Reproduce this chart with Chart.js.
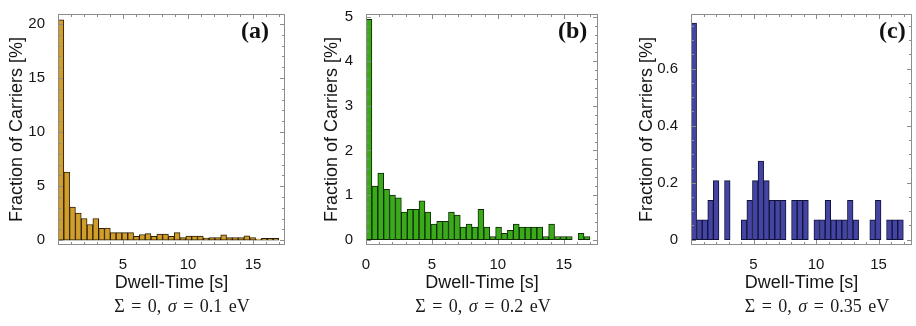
<!DOCTYPE html>
<html>
<head>
<meta charset="utf-8">
<script src="https://cdn.jsdelivr.net/npm/chart.js@4.4.1/dist/chart.umd.min.js"></script>
<style>
  html, body { margin: 0; padding: 0; background: #fff; }
  #wrap { position: relative; width: 916px; height: 326px; overflow: hidden; }
  .panel { position: absolute; top: 0; height: 300px; }
  .tag { position: absolute; top: 17px; font: bold 24px "Liberation Serif", "DejaVu Serif", serif; color: #111; }
  .cap { position: absolute; top: 296px; font: 18px "Liberation Serif", "DejaVu Serif", serif; color: #1a1a1a;
         transform: translateX(-50%); white-space: nowrap; word-spacing: 2px; }
</style>
</head>
<body>
<div id="wrap">
  <div class="panel" style="left:0px;width:300px"><canvas id="chartA"></canvas></div>
  <div class="panel" style="left:315px;width:290px"><canvas id="chartB"></canvas></div>
  <div class="panel" style="left:630px;width:286px"><canvas id="chartC"></canvas></div>

  <div class="tag" style="left:241px">(a)</div>
  <div class="tag" style="left:558px">(b)</div>
  <div class="tag" style="left:879px">(c)</div>

  <div class="cap" style="left:182px">&Sigma; = 0, <i>&sigma;</i> = 0.1 eV</div>
  <div class="cap" style="left:483px">&Sigma; = 0, <i>&sigma;</i> = 0.2 eV</div>
  <div class="cap" style="left:817px">&Sigma; = 0, <i>&sigma;</i> = 0.35 eV</div>
</div>

<script>
// histogram bins: 38 bins of equal width starting at 0 s
const binWidth = 0.447;

// fraction of carriers [%] per dwell-time bin
const fracA = [20.4, 6.3, 3.05, 2.5, 2.0, 1.45, 2.0, 1.1, 1.12, 0.69,
               0.69, 0.69, 0.69, 0.35, 0.52, 0.6, 0.36, 0.55, 0.55, 0.36,
               0.69, 0.24, 0.38, 0.38, 0.38, 0.2, 0.24, 0.24, 0.48, 0.24,
               0.24, 0.24, 0.4, 0.24, 0.1, 0.17, 0.17, 0.17];
const fracB = [4.94, 1.20, 1.49, 1.13, 1.00, 0.94, 0.62, 0.68, 0.68, 0.87,
               0.62, 0.35, 0.41, 0.41, 0.62, 0.55, 0.28, 0.35, 0.28, 0.68,
               0.28, 0.07, 0.28, 0.14, 0.21, 0.35, 0.28, 0.28, 0.28, 0.28,
               0.07, 0.35, 0.07, 0.07, 0.07, 0, 0.14, 0.07];
const fracC = [0.76, 0.069, 0.069, 0.138, 0.207, 0, 0.207, 0, 0, 0.069,
               0.138, 0.207, 0.276, 0.207, 0.138, 0.138, 0.138, 0, 0.138, 0.138,
               0.138, 0, 0.069, 0.069, 0.138, 0.069, 0.069, 0.069, 0.138, 0.069,
               0, 0, 0.069, 0.138, 0, 0.069, 0.069, 0.069];

// tick labels
const xTicksA = [5, 10, 15];
const xTicksB = [0, 5, 10, 15];
const xTicksC = [5, 10, 15];
const yTicksA = [0, 5, 10, 15, 20];
const yTicksB = [0, 1, 2, 3, 4, 5];
const yTicksC = [0, 0.2, 0.4, 0.6];

const xTitle = 'Dwell-Time [s]';
const yTitle = 'Fraction of Carriers [%]';

// frame with small inward ticks on all four sides
const frameTicks = {
    id: 'frameTicks',
    afterDraw(chart, args, opts) {
        const { ctx, chartArea: a, scales: { x, y } } = chart;
        ctx.save();
        ctx.strokeStyle = '#8c8c8c';
        ctx.lineWidth = 1;
        ctx.strokeRect(a.left + 0.5, a.top + 0.5, a.right - a.left - 1, a.bottom - a.top - 1);
        ctx.beginPath();
        for (let i = 0; i * opts.xMinor <= x.max; i++) {
            const v = i * opts.xMinor;
            const len = (i % opts.xEvery === 0) ? 5 : 3;
            const px = Math.round(x.getPixelForValue(v)) + 0.5;
            ctx.moveTo(px, a.bottom); ctx.lineTo(px, a.bottom - len);
            ctx.moveTo(px, a.top); ctx.lineTo(px, a.top + len);
        }
        for (let i = 0; i * opts.yMinor <= y.max; i++) {
            const v = i * opts.yMinor;
            const len = (i % opts.yEvery === 0) ? 5 : 3;
            const py = Math.round(y.getPixelForValue(v)) + 0.5;
            ctx.moveTo(a.left, py); ctx.lineTo(a.left + len, py);
            ctx.moveTo(a.right, py); ctx.lineTo(a.right - len, py);
        }
        ctx.stroke();
        ctx.restore();
    }
};

Chart.defaults.font.family = '"Liberation Sans", Arial, sans-serif';
Chart.defaults.color = '#151515';

function makeHist(id, frac, fill, edge, xTicks, yTicks, xMax, yMin, yMax, yWidth, padRight, minor) {
    new Chart(document.getElementById(id), {
        type: 'bar',
        data: {
            datasets: [{
                data: frac.map((v, i) => ({ x: (i + 0.5) * binWidth, y: v })),
                backgroundColor: fill,
                borderColor: edge,
                borderWidth: 1,
                borderSkipped: false,
                barPercentage: 1,
                categoryPercentage: 1
            }]
        },
        plugins: [frameTicks],
        options: {
            responsive: true,
            maintainAspectRatio: false,
            animation: false,
            layout: { padding: { top: 7, right: padRight, left: 0, bottom: 0 } },
            plugins: {
                legend: { display: false },
                tooltip: { enabled: false },
                frameTicks: minor
            },
            scales: {
                x: {
                    type: 'linear',
                    min: 0,
                    max: xMax,
                    offset: false,
                    grid: { display: false, offset: false },
                    border: { display: false },
                    afterBuildTicks: s => { s.ticks = xTicks.map(v => ({ value: v })); },
                    afterFit: s => { s.height = 55; },
                    ticks: { padding: 3, font: { size: 15 }, maxRotation: 0 },
                    title: { display: true, text: xTitle, font: { size: 18 }, padding: { top: 0, bottom: 6 } }
                },
                y: {
                    min: yMin,
                    max: yMax,
                    grid: { display: false },
                    border: { display: false },
                    afterBuildTicks: s => { s.ticks = yTicks.map(v => ({ value: v })); },
                    afterFit: s => { s.width = yWidth; },
                    ticks: { padding: 5, font: { size: 15 } },
                    title: { display: true, text: yTitle, font: { size: 18 }, padding: { top: 6, bottom: 0 } }
                }
            }
        }
    });
}

makeHist('chartA', fracA, '#d19e2c', '#2b1e02', xTicksA, yTicksA, 17.46, -0.45, 20.93, 58, 15,
         { xMinor: 1, xEvery: 5, yMinor: 1, yEvery: 5 });
makeHist('chartB', fracB, '#3aaa1a', '#0d2a04', xTicksB, yTicksB, 17.6, -0.12, 5.06, 51, 7,
         { xMinor: 1, xEvery: 5, yMinor: 0.2, yEvery: 5 });
makeHist('chartC', fracC, '#4444a2', '#12123a', xTicksC, yTicksC, 17.68, -0.019, 0.792, 61, 4,
         { xMinor: 1, xEvery: 5, yMinor: 0.05, yEvery: 4 });
</script>
</body>
</html>
